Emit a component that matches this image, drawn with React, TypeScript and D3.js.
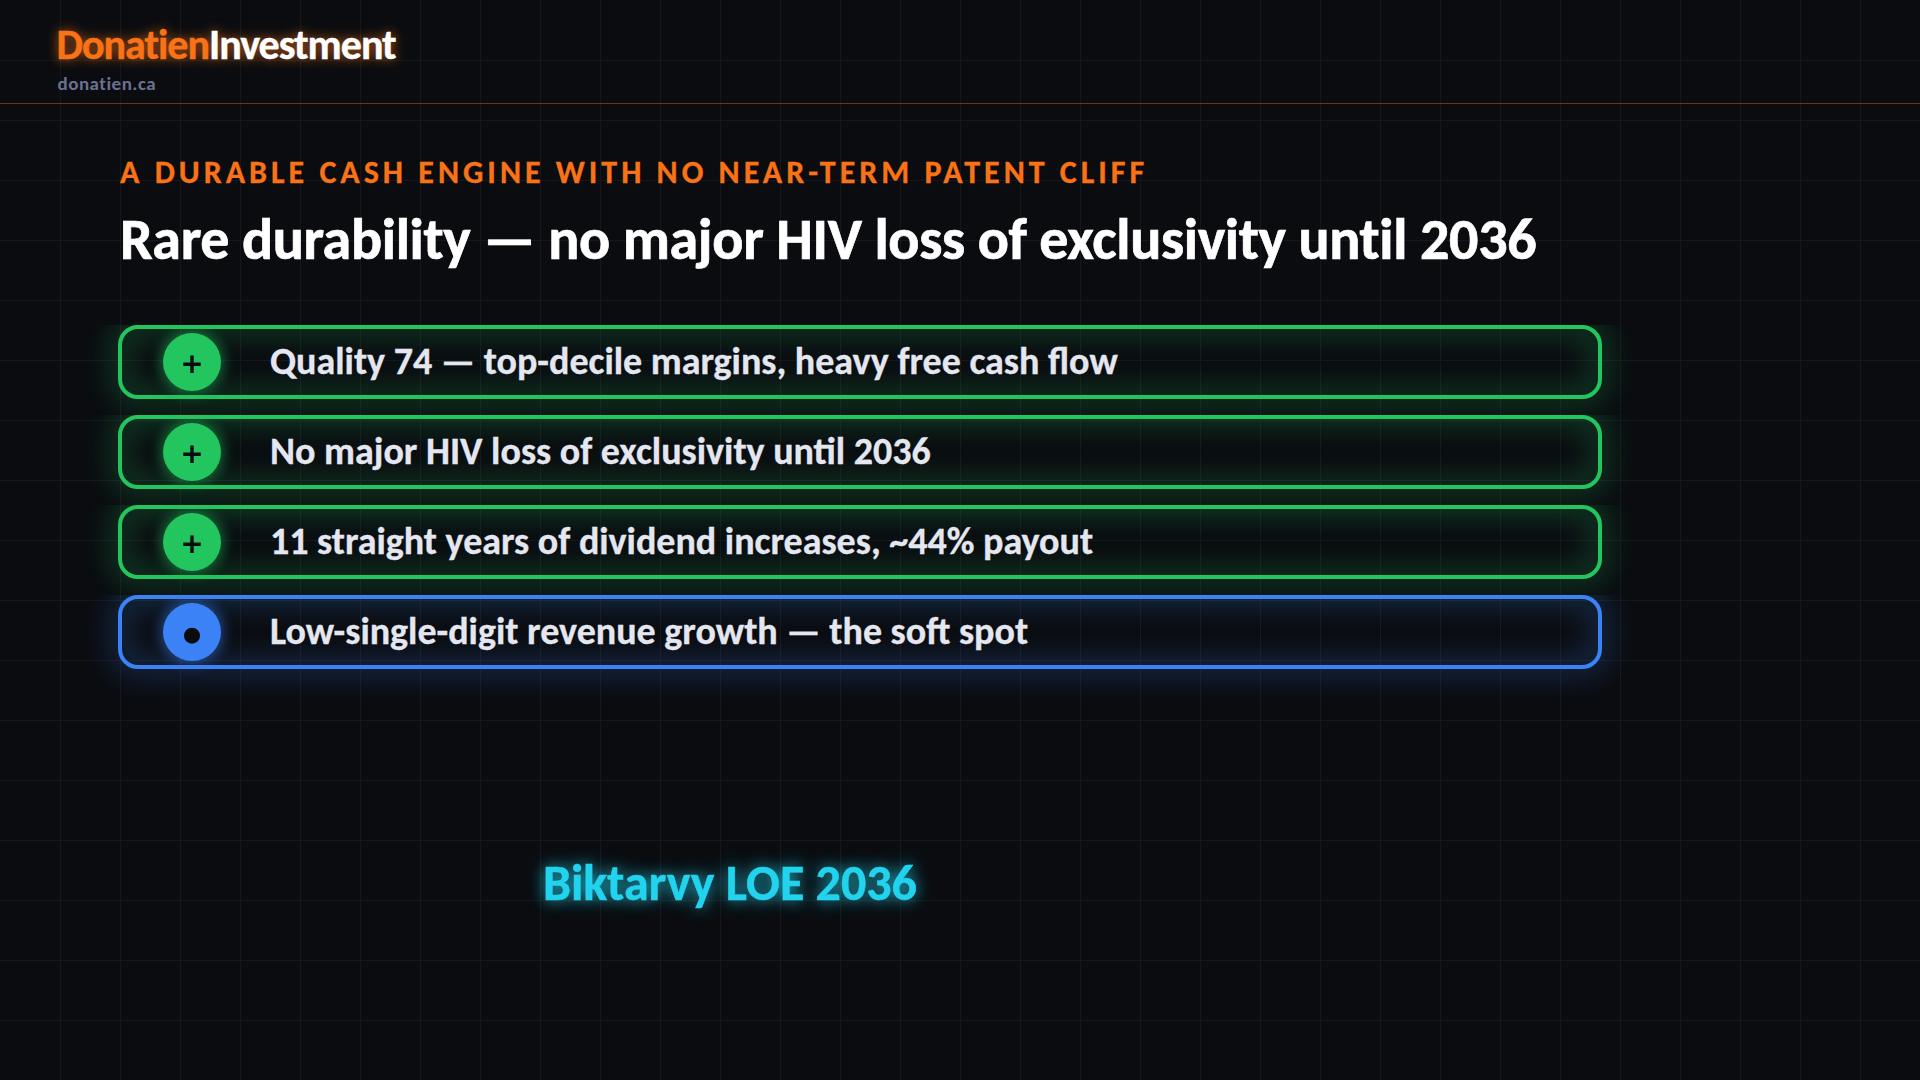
import { useEffect, useRef } from 'react';
import * as d3 from 'd3';

const rowLabels = [
  'Quality 74 — top-decile margins, heavy free cash flow',
  'No major HIV loss of exclusivity until 2036',
  '11 straight years of dividend increases, ~44% payout',
  'Low-single-digit revenue growth — the soft spot',
];
const rowKinds = ['plus', 'plus', 'plus', 'dot'];
const kindColors: Record<string, string> = { plus: '#22c55e', dot: '#3b82f6' };

const brandLeft = 'Donatien';
const brandRight = 'Investment';
const brandSite = 'donatien.ca';
const eyebrow = 'A DURABLE CASH ENGINE WITH NO NEAR-TERM PATENT CLIFF';
const title = 'Rare durability — no major HIV loss of exclusivity until 2036';
const callout = 'Biktarvy LOE 2036';

const width = 1920;
const height = 1080;
const font = 'Carlito, Lato, sans-serif';

export default function App() {
  const svgRef = useRef<SVGSVGElement>(null);

  useEffect(() => {
    if (!svgRef.current) return;
    const svg = d3.select(svgRef.current);
    svg.selectAll('*').remove();

    const defs = svg.append('defs');
    const blur = (id: string, dev: number) =>
      defs
        .append('filter')
        .attr('id', id)
        .attr('filterUnits', 'userSpaceOnUse')
        .attr('x', 0)
        .attr('y', 0)
        .attr('width', width)
        .attr('height', height)
        .append('feGaussianBlur')
        .attr('stdDeviation', dev);
    blur('blur-box', 14);
    blur('blur-dot', 7);
    blur('blur-text', 8);
    blur('blur-brand', 6);

    svg.append('rect').attr('width', width).attr('height', height).attr('fill', '#0a0c10');

    // background grid
    const gridX = d3.range(60, width, 60);
    const gridY = d3.range(60, height, 60);
    const grid = svg.append('g').attr('stroke', '#15171d').attr('stroke-width', 1);
    grid
      .selectAll('line.v')
      .data(gridX)
      .join('line')
      .attr('class', 'v')
      .attr('x1', (d) => d + 0.5)
      .attr('x2', (d) => d + 0.5)
      .attr('y1', 0)
      .attr('y2', height);
    grid
      .selectAll('line.h')
      .data(gridY)
      .join('line')
      .attr('class', 'h')
      .attr('x1', 0)
      .attr('x2', width)
      .attr('y1', (d) => d + 0.5)
      .attr('y2', (d) => d + 0.5);

    // header
    const brand = (g: d3.Selection<SVGGElement, unknown, null, undefined>) => {
      const t = g
        .append('text')
        .attr('x', 56.5)
        .attr('y', 59)
        .attr('font-size', 42)
        .attr('font-weight', 700)
        .attr('letter-spacing', -1);
      t.append('tspan').attr('fill', '#f97316').attr('stroke', '#f97316').attr('stroke-width', 0.4).text(brandLeft);
      t.append('tspan').attr('fill', '#ffffff').attr('stroke', '#ffffff').attr('stroke-width', 0.4).text(brandRight);
    };
    const brandGlow = svg.append('g').attr('filter', 'url(#blur-brand)').attr('opacity', 0.7);
    brand(brandGlow);
    brandGlow.selectAll('tspan').attr('fill', '#f97316').attr('stroke', '#f97316');
    brand(svg.append('g'));

    svg
      .append('text')
      .attr('x', 57.5)
      .attr('y', 90)
      .attr('font-size', 19)
      .attr('font-weight', 700)
      .attr('letter-spacing', 0.5)
      .attr('fill', '#6b7190')
      .text(brandSite);

    svg
      .append('rect')
      .attr('x', 0)
      .attr('y', 103)
      .attr('width', width)
      .attr('height', 1)
      .attr('fill', '#6a3515');

    svg
      .append('text')
      .attr('x', 120)
      .attr('y', 183)
      .attr('font-size', 32)
      .attr('font-weight', 700)
      .attr('letter-spacing', 4)
      .attr('fill', '#f97316')
      .attr('stroke', '#f97316')
      .attr('stroke-width', 0.3)
      .text(eyebrow);

    svg
      .append('text')
      .attr('x', 120)
      .attr('y', 259)
      .attr('font-size', 58)
      .attr('font-weight', 700)
      .attr('letter-spacing', -0.32)
      .attr('fill', '#ffffff')
      .attr('stroke', '#ffffff')
      .attr('stroke-width', 0.7)
      .text(title);

    // rows
    const rowH = 74;
    const rowX = 118;
    const rowW = 1484;
    const rowY = d3
      .scaleBand<number>()
      .domain(d3.range(rowLabels.length))
      .range([325, 325 + 90 * rowLabels.length - 16])
      .paddingInner(16 / 90)
      .paddingOuter(0);

    const rows = svg
      .selectAll('g.row')
      .data(rowLabels)
      .join('g')
      .attr('class', 'row')
      .attr('transform', (_, i) => `translate(0, ${rowY(i)})`);

    rows
      .append('rect')
      .attr('x', rowX + 2)
      .attr('y', 2)
      .attr('width', rowW - 4)
      .attr('height', rowH - 4)
      .attr('rx', 18)
      .attr('fill', 'none')
      .attr('stroke', (_, i) => kindColors[rowKinds[i]])
      .attr('stroke-width', 16)
      .attr('opacity', 0.3)
      .attr('filter', 'url(#blur-box)');

    rows
      .append('rect')
      .attr('x', rowX + 2)
      .attr('y', 2)
      .attr('width', rowW - 4)
      .attr('height', rowH - 4)
      .attr('rx', 18)
      .attr('fill', 'none')
      .attr('stroke', (_, i) => kindColors[rowKinds[i]])
      .attr('stroke-width', 4);

    rows
      .append('circle')
      .attr('cx', 192)
      .attr('cy', rowH / 2)
      .attr('r', 31)
      .attr('fill', (_, i) => kindColors[rowKinds[i]])
      .attr('opacity', 0.55)
      .attr('filter', 'url(#blur-dot)');

    rows
      .append('circle')
      .attr('cx', 192)
      .attr('cy', rowH / 2)
      .attr('r', 29)
      .attr('fill', (_, i) => kindColors[rowKinds[i]]);

    rows
      .filter((_, i) => rowKinds[i] === 'plus')
      .append('path')
      .attr('d', 'M192 30.5V48M183.3 39.3H200.7')
      .attr('stroke', '#0a0c10')
      .attr('stroke-width', 3.4)
      .attr('fill', 'none');

    rows
      .filter((_, i) => rowKinds[i] === 'dot')
      .append('circle')
      .attr('cx', 192)
      .attr('cy', 40.7)
      .attr('r', 8)
      .attr('fill', '#0a0c10');

    rows
      .append('text')
      .attr('x', 270)
      .attr('y', 48.5)
      .attr('font-size', 38)
      .attr('font-weight', 700)
      .attr('fill', '#e5e7f0')
      .attr('stroke', '#e5e7f0')
      .attr('stroke-width', 0.3)
      .text((d) => d);

    // callout
    const calloutText = (g: d3.Selection<SVGGElement, unknown, null, undefined>) =>
      g
        .append('text')
        .attr('x', 543)
        .attr('y', 900)
        .attr('font-size', 50)
        .attr('font-weight', 700)
        .attr('fill', '#22d3ee')
        .attr('stroke', '#22d3ee')
        .attr('stroke-width', 0.5)
        .text(callout);
    calloutText(svg.append('g').attr('filter', 'url(#blur-text)').attr('opacity', 0.85));
    calloutText(svg.append('g'));
  }, []);

  return (
    <svg
      ref={svgRef}
      width={width}
      height={height}
      viewBox={`0 0 ${width} ${height}`}
      style={{ position: 'absolute', left: 0, top: 0, fontFamily: font }}
    />
  );
}
